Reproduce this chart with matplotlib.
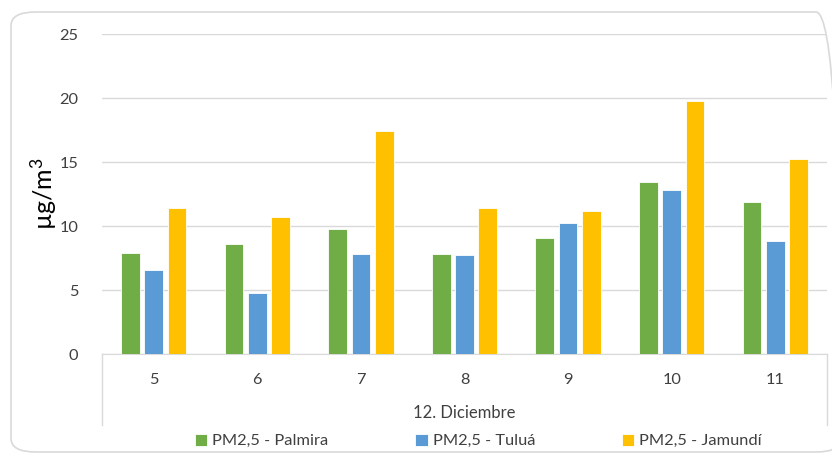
import matplotlib
matplotlib.use("Agg")
import matplotlib.pyplot as plt
from matplotlib.patches import FancyBboxPatch
import numpy as np

plt.rcParams["font.family"] = ["Lato", "DejaVu Sans"]

days = ["5", "6", "7", "8", "9", "10", "11"]
group_label = "12. Diciembre"
palmira = [7.9, 8.6, 9.8, 7.8, 9.1, 13.45, 11.85]
tulua = [6.6, 4.8, 7.8, 7.7, 10.25, 12.8, 8.8]
jamundi = [11.4, 10.7, 17.4, 11.4, 11.2, 19.75, 15.2]
series = ["PM2,5 - Palmira", "PM2,5 - Tuluá", "PM2,5 - Jamundí"]
colors = ["#70AD47", "#5B9BD5", "#FFC000"]

fig = plt.figure(figsize=(8.32, 4.55), dpi=100)

# rounded chart border
border = FancyBboxPatch((11 / 832, 3 / 455), 830 / 832, 440 / 455,
                        boxstyle="round,pad=0,rounding_size=0.03",
                        transform=fig.transFigure, fill=False,
                        edgecolor="#D9D9D9", linewidth=1.2)
fig.patches.append(border)

ax = fig.add_axes([102 / 832, 101 / 455, 725 / 832, 320 / 455])
x = np.arange(len(days))
w = 0.18
off = 0.225
for i, (vals, c, lab) in enumerate(zip([palmira, tulua, jamundi], colors, series)):
    ax.bar(x + (i - 1) * off, vals, width=w, color=c, edgecolor="white",
           linewidth=0.6, label=lab, zorder=3)

ax.set_xlim(-0.5, len(days) - 0.5)
ax.set_ylim(0, 25)
ax.set_yticks([0, 5, 10, 15, 20, 25])
ax.yaxis.grid(True, color="#D9D9D9", linewidth=1.0, zorder=0)
for s in ["top", "right", "left"]:
    ax.spines[s].set_visible(False)
ax.spines["bottom"].set_color("#D9D9D9")
ax.tick_params(axis="y", length=0, pad=17, labelsize=11.8, labelcolor="#404040")
ax.set_xticks(x)
ax.set_xticklabels(days)
ax.tick_params(axis="x", length=0, pad=14, labelsize=11.8, labelcolor="#404040")

# multi-level axis separators and group label
for xx in [0, 1]:
    ax.plot([xx, xx], [0, -0.222], transform=ax.transAxes, color="#D9D9D9",
            linewidth=1.0, clip_on=False)
ax.text(0.5, -0.184, group_label, transform=ax.transAxes, ha="center",
        va="center", fontsize=12, color="#404040")

ax.set_ylabel("µg/m$\\mathregular{^3}$", fontsize=18, color="black", labelpad=0)

handles, labels = ax.get_legend_handles_labels()
fig.legend(handles, labels, loc="center", bbox_to_anchor=(0.575, 1 - 441 / 455),
           ncol=3, frameon=False, fontsize=11.8, handlelength=0.75,
           handleheight=0.75, handletextpad=0.3, columnspacing=5.3,
           labelcolor="#404040")

fig.savefig("out.png", dpi=100)
